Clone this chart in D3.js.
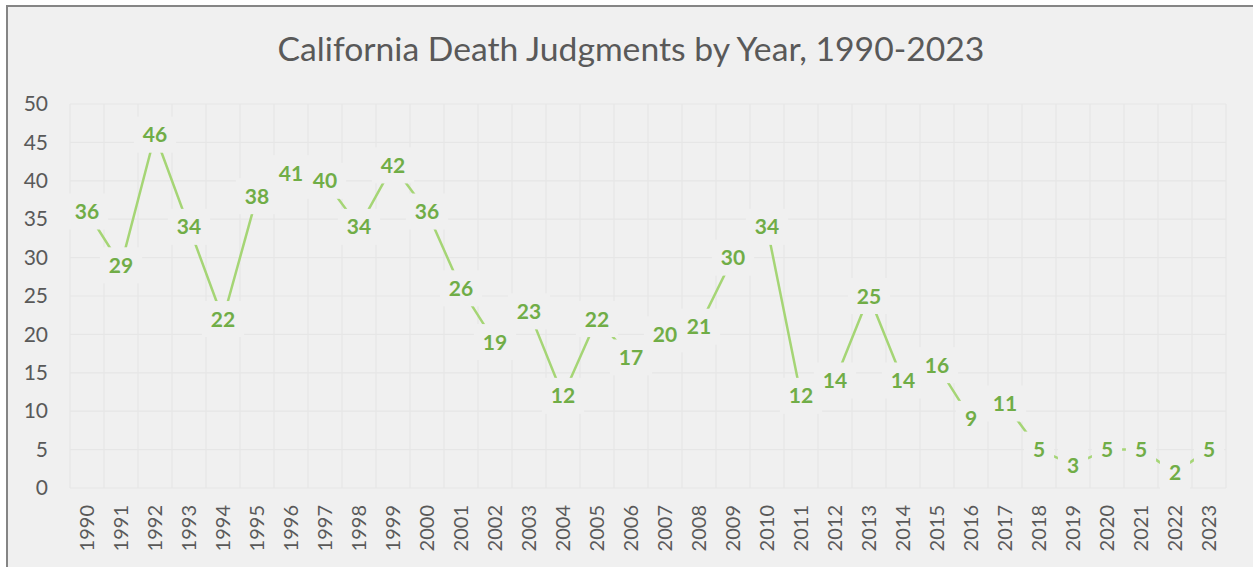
<!DOCTYPE html>
<html>
<head>
<meta charset="utf-8">
<script src="https://cdn.jsdelivr.net/npm/d3@7"></script>
<style>
  html, body { margin: 0; padding: 0; background: #fff; }
  svg { display: block; font-family: Lato, "Open Sans", sans-serif; }
</style>
</head>
<body>
<svg id="chart" width="1253" height="567"></svg>
<script>
// data
var years = ['1990','1991','1992','1993','1994','1995','1996','1997','1998','1999',
             '2000','2001','2002','2003','2004','2005','2006','2007','2008','2009',
             '2010','2011','2012','2013','2014','2015','2016','2017','2018','2019',
             '2020','2021','2022','2023'];
var judgments = [36, 29, 46, 34, 22, 38, 41, 40, 34, 42,
                 36, 26, 19, 23, 12, 22, 17, 20, 21, 30,
                 34, 12, 14, 25, 14, 16, 9, 11, 5, 3,
                 5, 5, 2, 5];
var yTicks = [0, 5, 10, 15, 20, 25, 30, 35, 40, 45, 50];
var title = 'California Death Judgments by Year, 1990-2023';

var bg = '#f0f0f0';
var svg = d3.select('#chart');
var width = +svg.attr('width');
var height = +svg.attr('height');

// chart area with border (only top/left visible in the crop)
svg.append('rect')
    .attr('x', 7).attr('y', 6)
    .attr('width', width + 20).attr('height', height + 20)
    .attr('fill', bg)
    .attr('stroke', '#858585')
    .attr('stroke-width', 2);

var plotLeft = 70, plotRight = 1226, plotTop = 104, plotBottom = 488;

var x = d3.scaleBand().domain(years).range([plotLeft, plotRight]);
var y = d3.scaleLinear().domain([0, 50]).range([plotBottom, plotTop]);

//-----------------------------------------------------------------------------
// gridlines
var grid = svg.append('g').attr('class', 'grid');
grid.selectAll('.hgrid')
    .data(yTicks)
    .enter().append('line')
    .attr('class', 'hgrid')
    .attr('x1', plotLeft).attr('x2', plotRight)
    .attr('y1', function(d) { return y(d); })
    .attr('y2', function(d) { return y(d); })
    .attr('stroke', '#e6e6e6')
    .attr('stroke-width', 1.2);

grid.selectAll('.vgrid')
    .data(years.concat(['end']))
    .enter().append('line')
    .attr('class', 'vgrid')
    .attr('x1', function(d, i) { return plotLeft + i * x.bandwidth(); })
    .attr('x2', function(d, i) { return plotLeft + i * x.bandwidth(); })
    .attr('y1', plotTop).attr('y2', plotBottom)
    .attr('stroke', '#e6e6e6')
    .attr('stroke-width', 1.2);

//-----------------------------------------------------------------------------
// axes
var yAxis = svg.append('g')
    .attr('transform', 'translate(' + (plotLeft - 10) + ',0)')
    .call(d3.axisLeft(y).tickValues(yTicks).tickSize(0).tickPadding(12));
yAxis.select('.domain').remove();
yAxis.selectAll('text')
    .attr('fill', '#595959')
    .style('font-size', '21px')
    .style('font-family', 'Lato, sans-serif');

var xAxis = svg.append('g')
    .attr('transform', 'translate(0,' + plotBottom + ')')
    .call(d3.axisBottom(x).tickSize(0));
xAxis.select('.domain').remove();
xAxis.selectAll('text')
    .attr('fill', '#595959')
    .style('font-size', '20px')
    .style('font-family', 'Lato, sans-serif')
    .attr('text-anchor', 'end')
    .attr('transform', 'translate(0,17) rotate(-90)')
    .attr('x', 0).attr('y', 0).attr('dy', '0.35em');

//-----------------------------------------------------------------------------
// line
var pts = years.map(function(yr, i) { return {year: yr, value: judgments[i]}; });

var line = d3.line()
    .x(function(d) { return x(d.year) + x.bandwidth() / 2; })
    .y(function(d) { return y(d.value); });

svg.append('path')
    .datum(pts)
    .attr('d', line)
    .attr('fill', 'none')
    .attr('stroke', '#a5d575')
    .attr('stroke-width', 2.5)
    .attr('stroke-linejoin', 'round');

//-----------------------------------------------------------------------------
// data labels with background boxes
var labels = svg.append('g').attr('class', 'labels');
var lab = labels.selectAll('.lab')
    .data(pts)
    .enter().append('g')
    .attr('class', 'lab')
    .attr('transform', function(d) {
        return 'translate(' + (x(d.year) + x.bandwidth() / 2) + ',' + y(d.value) + ')';
    });

lab.append('rect').attr('fill', bg);
lab.append('text')
    .attr('text-anchor', 'middle')
    .attr('dy', '0.36em')
    .attr('fill', '#70ad47')
    .style('font-size', '21px')
    .style('font-weight', 'bold')
    .style('font-family', 'Lato, sans-serif')
    .text(function(d) { return d.value; });

lab.each(function() {
    var g = d3.select(this);
    var w = g.select('text').node().getComputedTextLength();
    g.select('rect')
        .attr('x', -w / 2 - 9).attr('y', -18)
        .attr('width', w + 18).attr('height', 36);
});

//-----------------------------------------------------------------------------
// title, scaled to span the same width as the original
var t = svg.append('text')
    .attr('x', 631).attr('y', 61)
    .attr('text-anchor', 'middle')
    .attr('fill', '#595959')
    .style('font-size', '30px')
    .style('font-family', 'Lato, sans-serif')
    .text(title);
var tw = t.node().getComputedTextLength();
t.style('font-size', (30 * 708 / tw).toFixed(1) + 'px');
</script>
</body>
</html>
